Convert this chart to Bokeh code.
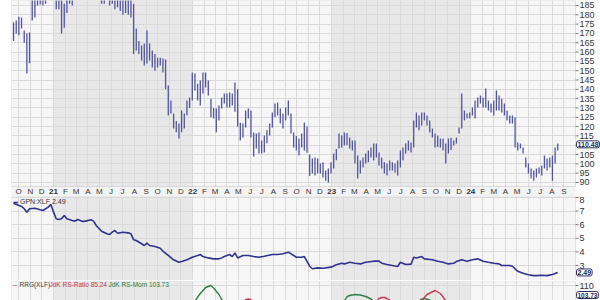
import pandas as pd
from bokeh.plotting import figure
from bokeh.layouts import column
from bokeh.models import (Range1d, FixedTicker, BoxAnnotation, Label, Legend,
                          LegendItem, Grid, ColumnDataSource)
from bokeh.core.properties import value
from bokeh.embed import file_html
from bokeh.resources import INLINE

FONT = "Liberation Sans"

# ---------------- data (weekly bars, GPN) ----------------
week_start = "2020-09-18"
high = [
    176, 177, 179, 178.5, 171.6, 170, 170.5, 192, 193, 196,
    195, 196, 197, 200, 203, 200, 195, 194, 191, 186,
    192, 198, 196, 200, 205, 210, 212, 208, 206, 203,
    208, 214, 210, 203, 198, 199, 197, 196, 195, 196,
    194, 192, 193, 192, 191, 186, 172.6, 166, 163.5, 164.6,
    171.6, 164.6, 160.8, 159, 157, 157, 156.6, 156, 142, 134,
    127, 123, 121.6, 128.6, 127, 134, 135.6, 149, 148.5, 143,
    144.7, 149, 149, 144.7, 135, 130, 129.7, 131.3, 135.6, 137.8,
    137.8, 138.3, 137.8, 143.7, 140, 122, 121.6, 128.6, 129.7, 128.6,
    116.8, 116.3, 116.8, 112.5, 115.2, 118, 121.6, 127.6, 132.4, 133,
    129.7, 127, 130.3, 134, 127, 116.8, 115, 113.6, 116.3, 122.2,
    120, 105, 102.9, 103.4, 102.9, 100.2, 100.8, 96.4, 97.5, 100.8,
    105.6, 108, 116.3, 115.2, 116.8, 116.5, 114.2, 112.5, 112.5, 104.5,
    101.8, 103.4, 105.6, 107.2, 108.8, 110.9, 110.9, 106.1, 103.4, 100.8,
    100.2, 101.8, 100.8, 100.2, 101.8, 107.2, 108.8, 110.9, 112.5, 111.5,
    123.3, 127.6, 126, 127.6, 127.6, 126, 123.3, 119, 116.3, 115.2,
    113.6, 113.6, 110.9, 113.6, 114, 112.5, 114.2, 119.5, 137.8, 128.6,
    127, 127.6, 130.3, 134, 135.6, 136.7, 135.6, 140.4, 134, 132.4,
    134, 139.4, 136.7, 135, 132.4, 128.6, 126, 126, 125, 111.5,
    110.9, 108.8, 103.4, 100.2, 97.5, 96.4, 97.5, 98, 99, 104.5,
    102.9, 103.4, 104.5, 108.8, 110.9,
]
low = [
    166, 170, 169, 172.6, 165, 148.5, 154, 177, 178.5, 185,
    185.5, 185, 186, 190, 192, 190, 183, 183, 170, 173,
    181, 186, 185, 188, 193, 198, 200, 197, 195, 192,
    196, 203, 194, 186, 186, 188, 185, 186, 183, 184,
    182, 180, 181, 180, 178.5, 159, 160.8, 159, 155.5, 152.8,
    153.9, 155.5, 151.7, 150, 151.7, 152.8, 149, 140, 126, 127,
    119, 117, 113.6, 117, 119, 126, 130, 134, 139.4, 134,
    131.3, 137.8, 141, 136.7, 125, 124.3, 117, 123.3, 129.7, 132.4,
    130.3, 130.3, 131.3, 128, 120, 112.5, 114.2, 119.5, 124.3, 114.2,
    104, 108.2, 105.6, 105.6, 106.1, 111, 115.2, 119.5, 125, 126,
    121.6, 119, 123.3, 126, 116.3, 108.8, 107.2, 104.5, 108.8, 107.2,
    106, 93.6, 94.8, 93.7, 95, 94.8, 92.7, 91, 90, 94.8,
    97.5, 102, 108.2, 108.8, 109.9, 110, 108.2, 107.2, 100.2, 92.1,
    94.8, 98, 100.2, 100.8, 103.4, 101.8, 103.4, 99.1, 97.5, 94.8,
    93.7, 96.4, 96.4, 95.3, 93.7, 98, 101.8, 105.6, 107.2, 106.1,
    108.8, 119.5, 118, 120.6, 123.3, 120.6, 116.8, 114.2, 108.8, 109,
    108.8, 107.2, 100.2, 105.6, 107.5, 109.9, 110.9, 116.3, 119, 123.3,
    124.3, 124.3, 126, 124.3, 130.3, 132.4, 130.3, 130.3, 128.6, 127.6,
    126, 128.6, 128.6, 127.6, 126, 123.3, 121.6, 121.6, 108.8, 107.2,
    108.2, 105.6, 98, 94.8, 92.1, 91, 92.7, 94.8, 93.7, 97.5,
    96.4, 98, 91, 100.2, 107.2,
]
last_close = 110.48

# GPN:XLF relative strength (week index, value)
ratio_idx = [0, 3, 4, 5, 6, 8, 10, 11, 13, 14,
             15, 16, 17, 18, 19, 20, 22, 23, 24, 26,
             27, 29, 30, 31, 33, 35, 36, 37, 38, 39,
             41, 43, 44, 45, 46, 48, 49, 50, 51, 53,
             55, 56, 58, 60, 62, 63, 65, 67, 69, 70,
             71, 73, 75, 77, 78, 79, 81, 82, 83, 84,
             86, 88, 90, 92, 94, 97, 99, 101, 103, 105,
             106, 108, 109, 111, 112, 114, 116, 119, 121, 123,
             124, 126, 128, 130, 132, 135, 137, 138, 140, 142,
             144, 145, 147, 149, 150, 151, 153, 154, 157, 159,
             161, 163, 165, 166, 168, 170, 172, 174, 176, 178,
             180, 182, 183, 186, 187, 188, 189, 191, 193, 195,
             196, 198, 200, 202, 204]
ratio_val = [7.58, 7.34, 7.17, 6.92, 7.17, 7.21, 7.09, 7.04, 7.29, 7.49,
             6.92, 6.43, 6.38, 6.43, 6.68, 6.43, 6.31, 6.26, 6.38, 6.24,
             6.26, 6.36, 6.26, 5.94, 5.52, 5.33, 5.28, 5.45, 5.57, 5.37,
             5.45, 5.40, 5.33, 4.9, 4.84, 4.60, 4.47, 4.64, 4.47, 4.40,
             4.27, 4.05, 3.74, 3.42, 3.24, 3.29, 3.42, 3.61, 3.74, 3.81,
             3.66, 3.56, 3.49, 3.49, 3.56, 3.66, 3.81, 3.66, 3.93, 3.56,
             3.74, 3.74, 3.66, 3.61, 3.68, 3.81, 3.81, 3.86, 3.98, 3.74,
             3.61, 3.61, 3.66, 2.95, 2.76, 2.83, 2.80, 2.88, 3.05, 3.17,
             3.12, 3.24, 3.17, 3.12, 3.24, 3.32, 3.32, 3.17, 3.07, 3.0,
             2.93, 3.24, 3.07, 3.10, 3.61, 3.56, 3.66, 3.49, 3.42, 3.32,
             3.24, 3.12, 3.17, 3.29, 3.42, 3.32, 3.42, 3.49, 3.32, 3.24,
             3.17, 3.12, 3.0, 3.0, 2.95, 2.76, 2.58, 2.43, 2.32, 2.26,
             2.26, 2.29, 2.26, 2.34, 2.49]
ratio_last = 2.49

# RRG(XLF): JdK RS-Momentum and JdK RS-Ratio (week index, value)
mom_idx = [0, 20, 40, 55, 64, 68, 70, 72, 74, 75,
           77, 78, 82, 95, 110, 120, 124, 125, 126, 128,
           130, 132, 134, 135, 142, 150, 152, 153, 154, 156,
           157, 170, 185, 195, 204]
mom_val = [99, 101, 97, 95, 100, 103.8, 106.8, 109.2, 110, 109,
           106.4, 104.5, 100, 97, 96, 99, 103.8, 105.5, 106, 106.4,
           106.2, 105.6, 104.6, 103.8, 101, 102, 103.8, 104.6, 104.8, 104.2,
           103.6, 100, 98, 97, 103.73]
rsr_idx = [0, 30, 60, 80, 86, 87, 88, 89, 90, 100,
           120, 130, 136, 137, 138, 139, 140, 142, 148, 153,
           155, 158, 160, 162, 170, 185, 204]
rsr_val = [96, 93, 88, 100, 103.5, 104.3, 104.6, 104.3, 103.5, 98,
           92, 99, 103.5, 104.8, 105.2, 105.2, 104.8, 103.5, 101, 104,
           106.4, 108, 106.8, 104, 100, 93, 85.24]
rs_ratio_last = 85.24
rs_mom_last = 103.73

price_ticks = list(range(90, 190, 5))
ratio_ticks = [3, 4, 5, 6, 7, 8]
rrg_ticks = [110]
shaded_years = [2021, 2023]

# ---------------- positions (days since 2020-10-01) ----------------
origin = pd.Timestamp("2020-10-01")
weeks = pd.date_range(week_start, periods=len(high), freq="7D")
xw = [int((d - origin).days) for d in weeks]
months = pd.date_range("2020-10-01", "2024-09-01", freq="MS")
mx = [int((m - origin).days) for m in months]
month_x = [d for d, m in zip(mx, months) if m.month != 1]
month_t = [m.strftime("%b")[0] for m in months if m.month != 1]
year_x = [d for d, m in zip(mx, months) if m.month == 1]
year_t = [m.strftime("%y") for m in months if m.month == 1]


def px2day(px):
    return (px - 18) * 2.624


xr = Range1d(px2day(11), px2day(600))
X_EDGE = px2day(575)          # right edge of the plotting area (axis line)

BG = "#f6f6f6"
SHADE = "#e8e8e8"
GRID = "#dadada"
OUTLINE = "#a0a0a0"
TXT = "#333333"


def make_panel(h, yr, yticks, top=0, data_bottom=None, top_label_inside=False):
    p = figure(width=600, height=h, x_range=xr, y_range=yr,
               x_axis_location=None, y_axis_location=None,
               output_backend="svg", toolbar_location=None,
               min_border_left=11, min_border_right=0, min_border_top=top,
               min_border_bottom=0, background_fill_color=BG,
               border_fill_color="white", outline_line_color=None)
    p.xgrid.visible = False
    p.ygrid.visible = False
    for y in shaded_years:
        l = int((pd.Timestamp(f"{y}-01-01") - origin).days)
        r = int((pd.Timestamp(f"{y + 1}-01-01") - origin).days)
        p.add_layout(BoxAnnotation(left=l, right=r, bottom=data_bottom, fill_color=SHADE,
                                   fill_alpha=1, line_color=None, level="image"))
    p.add_layout(Grid(dimension=0, ticker=FixedTicker(ticks=mx), grid_line_color=GRID))
    p.add_layout(Grid(dimension=1, ticker=FixedTicker(ticks=yticks), grid_line_color=GRID))
    # white band for the value axis
    p.add_layout(BoxAnnotation(left=X_EDGE, fill_color="white", fill_alpha=1,
                               line_color=None, level="underlay"))
    # panel border
    p.add_layout(BoxAnnotation(right=X_EDGE, bottom=data_bottom, fill_alpha=0,
                               line_color=OUTLINE, line_width=1, level="overlay"))
    # ticks and labels on the right
    n = len(yticks)
    p.segment(x0=[X_EDGE] * n, x1=[px2day(578)] * n, y0=yticks, y1=yticks,
              line_color="#777777", line_width=1)
    inner = yticks[:-1] if top_label_inside else yticks
    p.text(x=[px2day(579)] * len(inner), y=inner, text=[str(t) for t in inner],
           text_font=value(FONT), text_font_size="9px", text_color=TXT,
           text_align="left", text_baseline="middle")
    if top_label_inside:
        p.text(x=[px2day(579)], y=[yr.end], text=[str(yticks[-1])],
               text_font=value(FONT), text_font_size="9px", text_color=TXT,
               text_align="left", text_baseline="top")
    return p


def value_box(p, y, text, size="7px", baseline="middle", y_offset=0):
    p.add_layout(Label(x=px2day(576), y=y, text=text, text_align="left",
                       text_baseline=baseline, y_offset=y_offset,
                       text_font=FONT, text_font_size=size,
                       text_font_style="bold", text_color="#1f1f44",
                       background_fill_color="white", border_line_color="#30306a",
                       border_line_width=1, padding=1, border_radius=2))


# ---------------- main price panel ----------------
PRICE_TOP, PRICE_BOTTOM = 187.68, 82.48
data_bottom = 185 - (186 - 5) / 1.863     # price at the bottom of the bar area
label_y = 185 - (191 - 5) / 1.863         # price level of the month-label row
p1 = make_panel(196, Range1d(PRICE_BOTTOM, PRICE_TOP), price_ticks, data_bottom=data_bottom)
p1.add_layout(BoxAnnotation(top=data_bottom, right=X_EDGE, fill_color="#f3f3f3",
                            fill_alpha=1, line_color=None, level="underlay"))
src = ColumnDataSource(dict(x=xw, hi=high, lo=low))
p1.segment(x0="x", y0="lo", x1="x", y1="hi", source=src, line_color="#5353a4",
           line_width=1.3)
p1.text(x=month_x, y=[label_y] * len(month_x), text=month_t, text_font=value(FONT),
        text_font_size="8px", text_color=TXT, text_align="center", text_baseline="middle")
p1.text(x=year_x, y=[label_y] * len(year_x), text=year_t, text_font=value(FONT),
        text_font_size="8px", text_font_style="bold", text_color=TXT,
        text_align="center", text_baseline="middle")
value_box(p1, last_close, f"{last_close:.2f}")

# ---------------- GPN:XLF ratio panel ----------------
r2 = Range1d(1.90, 8.07)
p2 = make_panel(84, r2, ratio_ticks, top_label_inside=True)
rl = p2.line([xw[i] for i in ratio_idx], ratio_val, line_color="#30308f", line_width=1.6)
leg = Legend(items=[LegendItem(label=f"GPN:XLF {ratio_last:.2f}", renderers=[rl])],
             location="top_left", orientation="horizontal", margin=2, padding=0,
             spacing=0, glyph_width=5, glyph_height=6, label_standoff=2,
             label_height=6, label_text_font=FONT, label_text_font_size="7px",
             label_text_color=TXT, background_fill_alpha=0,
             border_line_color=None)
p2.add_layout(leg)
value_box(p2, ratio_last, f"{ratio_last:.2f}")

# ---------------- RRG panel ----------------
r3 = Range1d(104.0, 111.6)
p3 = make_panel(20, r3, rrg_ticks, top=1)
p3.line([xw[i] for i in mom_idx], mom_val, line_color="#2f7d46", line_width=1.4)
p3.line([xw[i] for i in rsr_idx], rsr_val, line_color="#c83650", line_width=1.4)
ly = 110.4
for px, txt, col in [(12.5, "\u2013", "#c83650"),
                     (19, "RRG(XLF)", "#444444"),
                     (49, f"JdK RS-Ratio {rs_ratio_last:.2f}", "#c83650"),
                     (108, f"JdK RS-Mom {rs_mom_last:.2f}", "#2f7d46")]:
    p3.add_layout(Label(x=px2day(px), y=ly, text=txt, text_baseline="middle",
                        text_font=FONT, text_font_size="6.5px", text_color=col))
value_box(p3, r3.start, f"{rs_mom_last:.2f}", size="6.5px", baseline="bottom", y_offset=2)

layout = column(p1, p2, p3, spacing=0)
open("out.html", "w").write(file_html(layout, INLINE))
